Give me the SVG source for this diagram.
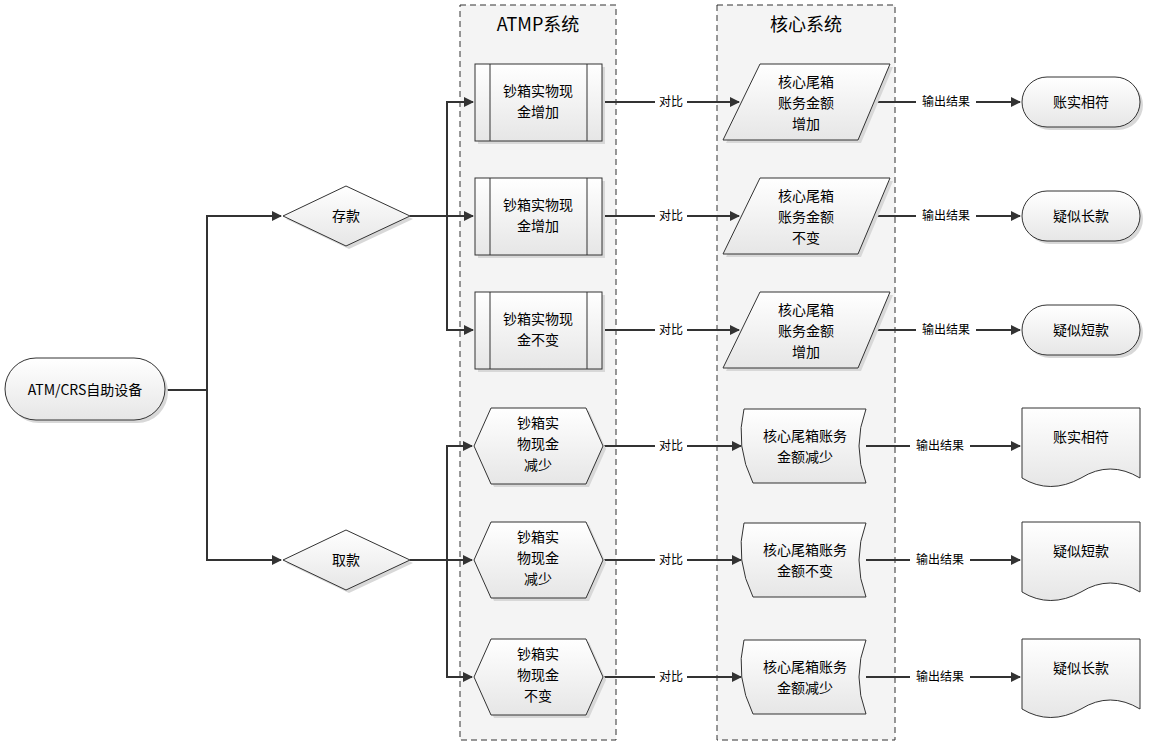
<svg xmlns="http://www.w3.org/2000/svg" width="1159" height="745" viewBox="0 0 1159 745">
<style>
text{font-family:"Noto Sans CJK SC","Liberation Sans",sans-serif;fill:#000;text-anchor:middle}
.t{font-size:14px}.s{font-size:12px}.h{font-size:18px}
.n{fill:url(#g);stroke:#333;stroke-width:1}
.sh{fill:#d8d8d8}
.c{fill:none;stroke:#333;stroke-width:2}
.lane{fill:#f4f4f4;stroke:#333;stroke-dasharray:6,4}
.lb{fill:#fff}
</style>
<defs>
<linearGradient id="g" x1="0" y1="0" x2="0" y2="1"><stop offset="0" stop-color="#fff"/><stop offset="1" stop-color="#e6e6e6"/></linearGradient>
<marker id="a" viewBox="0 0 10 10" refX="9" refY="5" markerWidth="6" markerHeight="6" orient="auto" markerUnits="userSpaceOnUse"><path d="M0,0L10,5L0,10z" fill="#333"/></marker>
<marker id="b" viewBox="0 0 10 10" refX="9" refY="5" markerWidth="5" markerHeight="5" orient="auto"><path d="M0,0L10,5L0,10z" fill="#333"/></marker>
</defs>
<g id="lanes">
<rect class="lane" x="460" y="5" width="156" height="735"/>
<rect class="lane" x="717" y="5" width="178" height="735"/>
<text class="h" x="538" y="31">ATMP系统</text>
<text class="h" x="806" y="31">核心系统</text>
</g>
<g id="connectors">
<path class="c" d="M165,390H207V216H281M207,390V560H281" marker-end="url(#b)"/>
<path class="c" d="M207,216H281" marker-end="url(#b)"/>
<path class="c" d="M410,216H447"/>
<path class="c" d="M447,216V102H473" marker-end="url(#b)"/>
<path class="c" d="M447,216H473" marker-end="url(#b)"/>
<path class="c" d="M447,216V330H473" marker-end="url(#b)"/>
<path class="c" d="M410,560H447"/>
<path class="c" d="M447,560V446H472" marker-end="url(#b)"/>
<path class="c" d="M447,560H472" marker-end="url(#b)"/>
<path class="c" d="M447,560V677H472" marker-end="url(#b)"/>
<path class="c" d="M602,102H739" marker-end="url(#b)"/>
<path class="c" d="M602,216H739" marker-end="url(#b)"/>
<path class="c" d="M602,330H739" marker-end="url(#b)"/>
<path class="c" d="M603,446H741" marker-end="url(#b)"/>
<path class="c" d="M603,560H741" marker-end="url(#b)"/>
<path class="c" d="M603,677H741" marker-end="url(#b)"/>
<path class="c" d="M874,102H1020" marker-end="url(#b)"/>
<path class="c" d="M874,216H1020" marker-end="url(#b)"/>
<path class="c" d="M874,330H1020" marker-end="url(#b)"/>
<path class="c" d="M866,446H1020" marker-end="url(#b)"/>
<path class="c" d="M866,560H1020" marker-end="url(#b)"/>
<path class="c" d="M866,677H1020" marker-end="url(#b)"/>
<g class="s">
<rect class="lb" x="655" y="94" width="32" height="16"/><text x="671" y="106">对比</text>
<rect class="lb" x="655" y="208" width="32" height="16"/><text x="671" y="220">对比</text>
<rect class="lb" x="655" y="322" width="32" height="16"/><text x="671" y="334">对比</text>
<rect class="lb" x="655" y="438" width="32" height="16"/><text x="671" y="450">对比</text>
<rect class="lb" x="655" y="552" width="32" height="16"/><text x="671" y="564">对比</text>
<rect class="lb" x="655" y="669" width="32" height="16"/><text x="671" y="681">对比</text>
<rect class="lb" x="916" y="94" width="60" height="16"/><text x="946" y="106">输出结果</text>
<rect class="lb" x="916" y="208" width="60" height="16"/><text x="946" y="220">输出结果</text>
<rect class="lb" x="916" y="322" width="60" height="16"/><text x="946" y="334">输出结果</text>
<rect class="lb" x="910" y="438" width="60" height="16"/><text x="940" y="450">输出结果</text>
<rect class="lb" x="910" y="552" width="60" height="16"/><text x="940" y="564">输出结果</text>
<rect class="lb" x="910" y="669" width="60" height="16"/><text x="940" y="681">输出结果</text>
</g>
</g>
<g id="start"><rect class="sh" x="8" y="361" width="160" height="62" rx="31"/><rect class="n" x="5" y="358" width="160" height="62" rx="31"/><text class="t" x="85" y="395">ATM/CRS自助设备</text></g>
<g id="deposit"><path class="sh" d="M286,219L349,189L413,219L349,249z"/><path class="n" d="M283,216L346,186L410,216L346,246z"/><text class="t" x="346" y="221">存款</text></g>
<g id="withdraw"><path class="sh" d="M286,563L349,533L413,563L349,593z"/><path class="n" d="M283,560L346,530L410,560L346,590z"/><text class="t" x="346" y="565">取款</text></g>
<g id="p1"><rect class="sh" x="478" y="67" width="127" height="77"/><rect class="n" x="475" y="64" width="127" height="77"/><path d="M490,64V141M587,64V141" stroke="#333"/><text class="t" x="538" y="96">钞箱实物现</text><text class="t" x="538" y="117">金增加</text></g>
<g id="p2"><rect class="sh" x="478" y="181" width="127" height="77"/><rect class="n" x="475" y="178" width="127" height="77"/><path d="M490,178V255M587,178V255" stroke="#333"/><text class="t" x="538" y="210">钞箱实物现</text><text class="t" x="538" y="231">金增加</text></g>
<g id="p3"><rect class="sh" x="478" y="295" width="127" height="77"/><rect class="n" x="475" y="292" width="127" height="77"/><path d="M490,292V369M587,292V369" stroke="#333"/><text class="t" x="538" y="324">钞箱实物现</text><text class="t" x="538" y="345">金不变</text></g>
<g id="c1"><path class="sh" d="M763,67H893L861,143H726z"/><path class="n" d="M760,64H890L858,140H723z"/><text class="t" x="806" y="87">核心尾箱</text><text class="t" x="806" y="108">账务金额</text><text class="t" x="806" y="129">增加</text></g>
<g id="c2"><path class="sh" d="M763,181H893L861,257H726z"/><path class="n" d="M760,178H890L858,254H723z"/><text class="t" x="806" y="201">核心尾箱</text><text class="t" x="806" y="222">账务金额</text><text class="t" x="806" y="243">不变</text></g>
<g id="c3"><path class="sh" d="M763,295H893L861,371H726z"/><path class="n" d="M760,292H890L858,368H723z"/><text class="t" x="806" y="315">核心尾箱</text><text class="t" x="806" y="336">账务金额</text><text class="t" x="806" y="357">增加</text></g>
<g id="r1"><rect class="sh" x="1025" y="80" width="118" height="50" rx="25"/><rect class="n" x="1022" y="77" width="118" height="50" rx="25"/><text class="t" x="1081" y="107">账实相符</text></g>
<g id="r2"><rect class="sh" x="1025" y="194" width="118" height="50" rx="25"/><rect class="n" x="1022" y="191" width="118" height="50" rx="25"/><text class="t" x="1081" y="221">疑似长款</text></g>
<g id="r3"><rect class="sh" x="1025" y="308" width="118" height="50" rx="25"/><rect class="n" x="1022" y="305" width="118" height="50" rx="25"/><text class="t" x="1081" y="335">疑似短款</text></g>
<g id="h1"><path class="sh" d="M477,449L494,411H589L606,449L589,487H494z"/><path class="n" d="M474,446L491,408H586L603,446L586,484H491z"/><text class="t" x="538" y="428">钞箱实</text><text class="t" x="538" y="449">物现金</text><text class="t" x="538" y="470">减少</text></g>
<g id="h2"><path class="sh" d="M477,563L494,525H589L606,563L589,601H494z"/><path class="n" d="M474,560L491,522H586L603,560L586,598H491z"/><text class="t" x="538" y="542">钞箱实</text><text class="t" x="538" y="563">物现金</text><text class="t" x="538" y="584">减少</text></g>
<g id="h3"><path class="sh" d="M477,680L494,642H589L606,680L589,718H494z"/><path class="n" d="M474,677L491,639H586L603,677L586,715H491z"/><text class="t" x="538" y="659">钞箱实</text><text class="t" x="538" y="680">物现金</text><text class="t" x="538" y="701">不变</text></g>
<g id="k1"><path class="n" d="M744,409H866Q852,446 866,483H753Q735,446 744,409z"/><text class="t" x="805" y="441">核心尾箱账务</text><text class="t" x="805" y="462">金额减少</text></g>
<g id="k2"><path class="n" d="M744,523H866Q852,560 866,597H753Q735,560 744,523z"/><text class="t" x="805" y="555">核心尾箱账务</text><text class="t" x="805" y="576">金额不变</text></g>
<g id="k3"><path class="n" d="M744,640H866Q852,677 866,714H753Q735,677 744,640z"/><text class="t" x="805" y="672">核心尾箱账务</text><text class="t" x="805" y="693">金额减少</text></g>
<g id="d1"><path class="n" d="M1022,408H1140V478Q1110,460 1081,478Q1050,495 1022,478z"/><text class="t" x="1081" y="442">账实相符</text></g>
<g id="d2"><path class="n" d="M1022,522H1140V592Q1110,574 1081,592Q1050,609 1022,592z"/><text class="t" x="1081" y="556">疑似短款</text></g>
<g id="d3"><path class="n" d="M1022,639H1140V709Q1110,691 1081,709Q1050,726 1022,709z"/><text class="t" x="1081" y="673">疑似长款</text></g>
</svg>
